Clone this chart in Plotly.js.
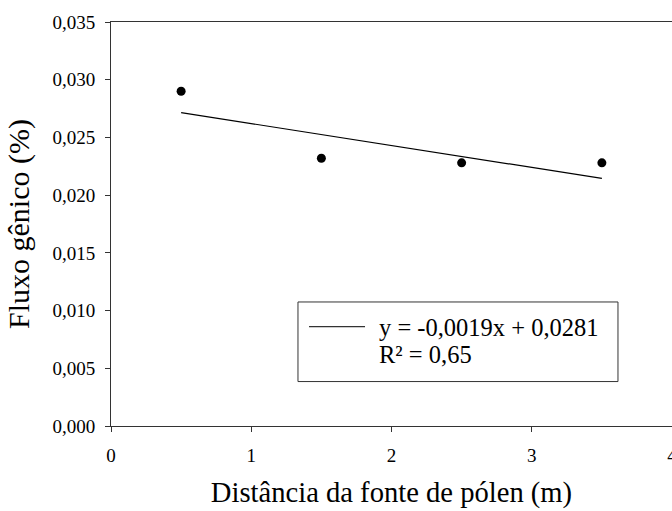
<!DOCTYPE html>
<html>
<head>
<meta charset="utf-8">
<script src="https://cdn.plot.ly/plotly-3.0.1.min.js"></script>
<style>html,body{margin:0;padding:0;background:#fff;}#chart{width:672px;height:511px;}</style>
</head>
<body>
<div id="chart"></div>
<script>
// Data
const distances = [0.5, 1.5, 2.5, 3.5];
const geneFlow = [0.0290, 0.0232, 0.0228, 0.0228];
// Trend line coefficients as shown in the chart
const slope = -0.0019;
const intercept = 0.0281;
const r2Text = "0,65";
const xTicks = [0, 1, 2, 3, 4];
const xTickLabels = ["0", "1", "2", "3", "4"];
const yTicks = [0, 0.005, 0.010, 0.015, 0.020, 0.025, 0.030, 0.035];
const yTickLabels = ["0,000", "0,005", "0,010", "0,015", "0,020", "0,025", "0,030", "0,035"];

const fitX = [distances[0], distances[distances.length - 1]];
const fitY = fitX.map(x => slope * x + intercept);

const font = "'Liberation Serif', 'Times New Roman', serif";

const traces = [
  {x: fitX, y: fitY, mode: "lines", type: "scatter",
   line: {color: "#000", width: 1.2}, showlegend: false, hoverinfo: "skip"},
  {x: distances, y: geneFlow, mode: "markers", type: "scatter",
   marker: {color: "#000", size: 9}, showlegend: false}
];

const fmt = v => v.toFixed(4).replace(".", ",");
const eqText = "y = " + fmt(slope) + "x + " + fmt(intercept);

const layout = {
  width: 672, height: 511,
  margin: {l: 111, r: 0, t: 22, b: 85},
  paper_bgcolor: "#fff", plot_bgcolor: "#fff",
  font: {family: font, color: "#000", size: 19},
  xaxis: {
    range: [0, 4], tickvals: xTicks, ticktext: xTickLabels,
    showgrid: false, zeroline: false, showline: true, mirror: true,
    linecolor: "#333", linewidth: 1, ticks: "outside", ticklen: 5, tickcolor: "#333",
    ticklabelstandoff: 7, ticklabeloverflow: "allow",
    tickfont: {family: font, size: 19, color: "#000"},
    title: {text: "Distância da fonte de pólen (m)", font: {family: font, size: 28.6, color: "#000"}, standoff: 17}
  },
  yaxis: {
    range: [0, 0.035], tickvals: yTicks, ticktext: yTickLabels,
    showgrid: false, zeroline: false, showline: true,
    linecolor: "#333", linewidth: 1, ticks: "outside", ticklen: 5, tickcolor: "#333",
    ticklabelstandoff: 6,
    tickfont: {family: font, size: 19, color: "#000"},
    title: {text: "Fluxo gênico (%)", font: {family: font, size: 30, color: "#000"}, standoff: 13}
  },
  shapes: [
    {type: "rect", xref: "paper", yref: "paper", x0: 0.3333, x1: 0.9037, y0: 0.110, y1: 0.307,
     line: {color: "#333", width: 1}, fillcolor: "#fff", layer: "above"},
    {type: "line", xref: "paper", yref: "paper", x0: 0.353, x1: 0.4528, y0: 0.2458, y1: 0.2458,
     line: {color: "#333", width: 1.2}, layer: "above"}
  ],
  annotations: [
    {xref: "paper", yref: "paper", x: 0.474, y: 0.244, xanchor: "left", yanchor: "middle",
     text: eqText, showarrow: false, font: {family: font, size: 24.5, color: "#000"}},
    {xref: "paper", yref: "paper", x: 0.474, y: 0.176, xanchor: "left", yanchor: "middle",
     text: "R² = " + r2Text, showarrow: false, font: {family: font, size: 24.5, color: "#000"}}
  ]
};

Plotly.newPlot("chart", traces, layout, {displayModeBar: false, staticPlot: true});
</script>
</body>
</html>
